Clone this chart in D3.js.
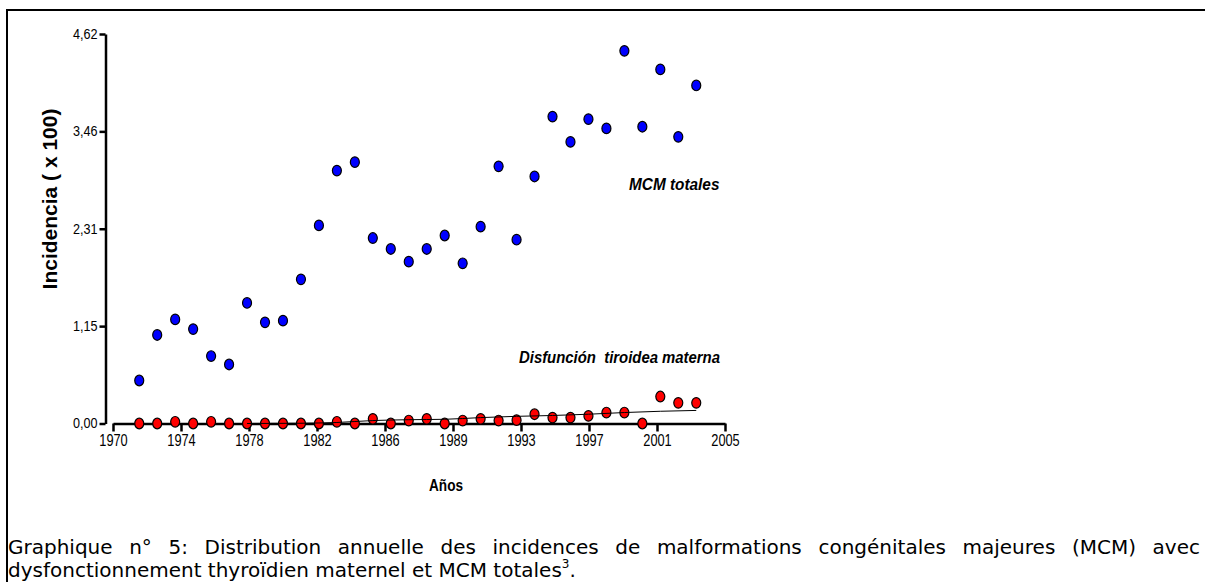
<!DOCTYPE html>
<html>
<head>
<meta charset="utf-8">
<script src="https://cdn.jsdelivr.net/npm/d3@7"></script>
<style>
  body { margin: 0; background: #fff; }
  svg { display: block; }
</style>
</head>
<body>
<div id="chart"></div>
<script>
// Data
const years = [1972, 1973, 1974, 1975, 1976, 1977, 1978, 1979, 1980, 1981, 1982,
               1983, 1984, 1985, 1986, 1987, 1988, 1989, 1990, 1991, 1992, 1993,
               1994, 1995, 1996, 1997, 1998, 1999, 2000, 2001, 2002, 2003];
const mcmTotales = [0.51, 1.05, 1.235, 1.12, 0.80, 0.70, 1.43, 1.20, 1.22, 1.71, 2.35,
                    3.00, 3.10, 2.20, 2.07, 1.92, 2.07, 2.23, 1.90, 2.335, 3.05, 2.18,
                    2.93, 3.64, 3.34, 3.61, 3.50, 4.42, 3.52, 4.20, 3.40, 4.01];
const disfuncion = [0, 0, 0.02, 0, 0.02, 0, 0, 0, 0, 0, 0,
                    0.02, 0, 0.055, 0, 0.035, 0.055, 0, 0.035, 0.055, 0.035, 0.04,
                    0.11, 0.07, 0.07, 0.09, 0.13, 0.13, 0, 0.32, 0.245, 0.245];
// smoothed trend drawn through the thyroid series
const trendYears = [1978, 1981, 1983, 1985, 1987, 1989, 1991, 1993, 1995, 1997, 1999, 2001, 2003];
const trendValues = [0, 0.003, 0.012, 0.035, 0.045, 0.05, 0.07, 0.085, 0.095, 0.11, 0.13, 0.145, 0.155];

const xTickLabels = ["1970", "1974", "1978", "1982", "1986", "1989", "1993", "1997", "2001", "2005"];
const yTickValues = [0, 1.155, 2.31, 3.465, 4.62];
const yTickLabels = ["0,00", "1,15", "2,31", "3,46", "4,62"];

const width = 1205, height = 582;

const svg = d3.select("#chart")
    .append("svg")
    .attr("width", width)
    .attr("height", height)
    .style("font-family", "'Liberation Sans', Arial, sans-serif");

// open frame (top + left only, the rest is cut off)
svg.append("path")
    .attr("d", `M7,${height}V10H${width}`)
    .attr("fill", "none")
    .attr("stroke", "#000")
    .attr("stroke-width", 2);

const xDomain = [1970.54, 2004.6];
const x = d3.scaleLinear().domain(xDomain).range([113, 725]);
const y = d3.scaleLinear().domain([0, 4.62]).range([423.5, 34]);

const xTickValues = xTickLabels.map((d, i) => xDomain[0] + i * (xDomain[1] - xDomain[0]) / (xTickLabels.length - 1));

// squeeze a text horizontally (the tick labels are condensed in the original)
function condense(sel, k) {
    sel.each(function() {
        const w = this.getComputedTextLength();
        d3.select(this).attr("textLength", w * k).attr("lengthAdjust", "spacingAndGlyphs");
    });
}

// axes
const xAxis = svg.append("g")
    .attr("transform", `translate(0,${y(0)})`)
    .call(d3.axisBottom(x)
        .tickValues(xTickValues)
        .tickFormat((d, i) => xTickLabels[i])
        .tickSize(8)
        .tickSizeOuter(0)
        .tickPadding(3));

const yAxis = svg.append("g")
    .attr("transform", "translate(105.5,0)")
    .call(d3.axisLeft(y)
        .tickValues(yTickValues)
        .tickFormat((d, i) => yTickLabels[i])
        .tickSize(6)
        .tickSizeOuter(0)
        .tickPadding(2));

[xAxis, yAxis].forEach(g => {
    g.select(".domain").attr("stroke", "#000").attr("stroke-width", 2.5);
    g.selectAll(".tick line").attr("stroke", "#000").attr("stroke-width", 2.5);
    g.selectAll(".tick text").attr("fill", "#000");
});
xAxis.selectAll(".tick text").attr("font-size", 16).call(condense, 0.8);
yAxis.selectAll(".tick text").attr("font-size", 14).call(condense, 0.9);

// MCM totales (blue)
svg.append("g")
    .selectAll("ellipse")
    .data(years.map((yr, i) => ({ yr, v: mcmTotales[i] })))
    .join("ellipse")
    .attr("cx", d => x(d.yr))
    .attr("cy", d => y(d.v))
    .attr("rx", 4.5)
    .attr("ry", 5.3)
    .attr("fill", "#0000ff")
    .attr("stroke", "#000")
    .attr("stroke-width", 1.2);

// Disfunción tiroidea materna (red)
svg.append("g")
    .selectAll("ellipse")
    .data(years.map((yr, i) => ({ yr, v: disfuncion[i] })))
    .join("ellipse")
    .attr("cx", d => x(d.yr))
    .attr("cy", d => y(d.v))
    .attr("rx", 4.5)
    .attr("ry", 5.3)
    .attr("fill", "#ff0000")
    .attr("stroke", "#000")
    .attr("stroke-width", 1.2);

const trendLine = d3.line()
    .x((d, i) => x(trendYears[i]))
    .y(d => y(d))
    .curve(d3.curveMonotoneX);

svg.append("path")
    .attr("d", trendLine(trendValues))
    .attr("fill", "none")
    .attr("stroke", "#000")
    .attr("stroke-width", 1);

// axis titles
svg.append("text")
    .attr("transform", "translate(57,199) rotate(-90)")
    .attr("text-anchor", "middle")
    .attr("font-size", 21)
    .attr("font-weight", "bold")
    .text("Incidencia ( x 100)");

svg.append("text")
    .attr("x", 446)
    .attr("y", 491)
    .attr("text-anchor", "middle")
    .attr("font-size", 16)
    .attr("font-weight", "bold")
    .text("Años")
    .call(condense, 0.85);

// series labels
svg.append("text")
    .attr("x", 629)
    .attr("y", 190)
    .attr("font-size", 16)
    .attr("font-weight", "bold")
    .attr("font-style", "italic")
    .text("MCM totales")
    .call(condense, 0.96);

svg.append("text")
    .attr("x", 519)
    .attr("y", 362.5)
    .attr("font-size", 16)
    .attr("font-weight", "bold")
    .attr("font-style", "italic")
    .attr("xml:space", "preserve")
    .attr("textLength", 201)
    .attr("lengthAdjust", "spacingAndGlyphs")
    .text("Disfunción  tiroidea materna");

// caption (first line justified to the full width by widening the word gaps)
const caption = svg.append("g")
    .attr("font-family", "'DejaVu Sans', Verdana, sans-serif")
    .attr("font-size", 20)
    .attr("fill", "#000");

const line1Text = "Graphique n° 5: Distribution annuelle des incidences de malformations congénitales majeures (MCM) avec";
const line1 = caption.append("text")
    .attr("x", 8)
    .attr("y", 554)
    .text(line1Text);
const natural = line1.node().getComputedTextLength();
const gaps = line1Text.split(" ").length - 1;
line1.attr("word-spacing", (1192 - natural) / gaps);

const line2 = caption.append("text")
    .attr("x", 8)
    .attr("y", 577);
line2.append("tspan").text("dysfonctionnement thyroïdien maternel et MCM totales");
line2.append("tspan").attr("font-size", 12).attr("dy", -9).text("3");
line2.append("tspan").attr("dy", 9).text(".");
</script>
</body>
</html>
